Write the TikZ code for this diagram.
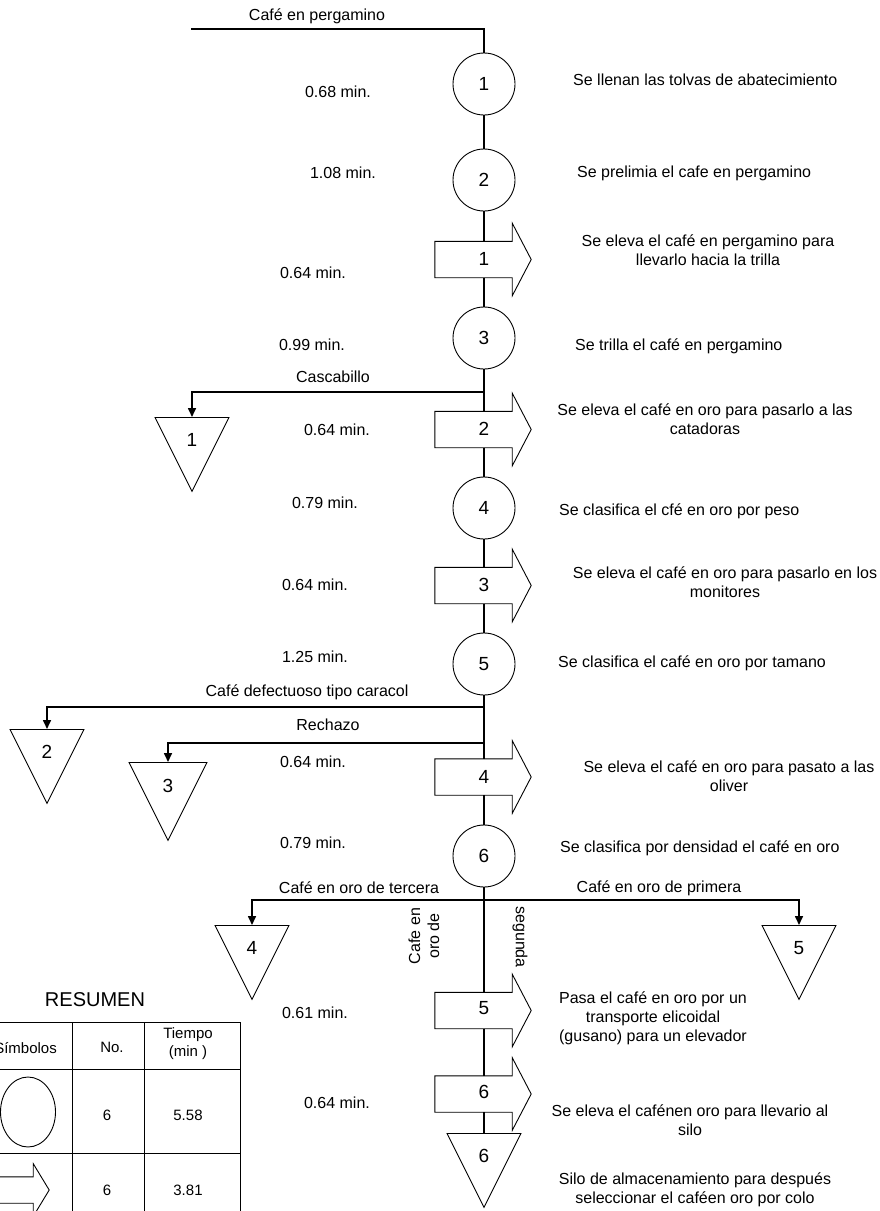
\documentclass[tikz,border=0pt]{standalone}
\usepackage{fontspec}
\setmainfont{Liberation Sans}
\usepackage{tikz}
\usetikzlibrary{arrows.meta,positioning,shapes.geometric,calc}

\begin{document}
\begin{tikzpicture}[x=1pt, y=-1pt,
  lbl/.style={font=\fontsize{16}{19}\selectfont, align=center, inner sep=1pt},
  desc/.style={lbl, anchor=west},
  num/.style={font=\fontsize{19}{22}\selectfont, inner sep=0pt},
  shape line/.style={line width=0.9pt},
  oper/.style={draw, shape line, circle, fill=white, minimum size=62pt, inner sep=0pt,
               font=\fontsize{19}{22}\selectfont},
  transp/.style={minimum width=77pt, minimum height=36pt, inner sep=0pt},
  store/.style={draw, shape line, isosceles triangle, shape border rotate=270,
                isosceles triangle stretches, minimum width=74pt, minimum height=74pt,
                inner sep=0pt, anchor=lower side, font=\fontsize{19}{22}\selectfont},
  flow/.style={line width=1.6pt},
  drop/.style={flow, -{Triangle[length=9pt, width=8pt]}},
  tbl/.style={font=\fontsize{15}{18}\selectfont, align=center, inner sep=0pt}
]
  \useasboundingbox (0,0) rectangle (880,1211);
  \clip (0,0) rectangle (880,1211);

  % incoming coffee
  \coordinate (inlet) at (191,29);
  \coordinate (bend) at (484,29);
  \node[lbl] (inlbl) at (317,16) {Café en pergamino};

  % operations (circles)
  \node[oper] (c1) at (484,84) {1};
  \node[oper] (c2) at (484,180) {2};
  \node[oper] (c3) at (484,338) {3};
  \node[oper] (c4) at (484,508) {4};
  \node[oper] (c5) at (484,664) {5};
  \node[oper] (c6) at (484,856) {6};

  % transports (block arrows)
  \node[transp] (t1) at (473.5,259.5) {};
  \node[transp] (t2) at (473.5,429.5) {};
  \node[transp] (t3) at (473.5,585.5) {};
  \node[transp] (t4) at (473.5,777) {};
  \node[transp] (t5) at (473.5,1010.5) {};
  \node[transp] (t6) at (473.5,1094) {};
  \foreach \t in {t1,t2,t3,t4,t5,t6}
    \draw[shape line, fill=white] (\t.north west) -- (\t.north east)
      -- ($(\t.north east)!-0.5!(\t.south east)$) -- ($(\t.east)+(19,0)$)
      -- ($(\t.south east)!-0.5!(\t.north east)$) -- (\t.south east)
      -- (\t.south west) -- cycle;
  \node[num] (n1) at (484,259) {1};
  \node[num] (n2) at (484,429) {2};
  \node[num] (n3) at (484,585) {3};
  \node[num] (n4) at (484,777) {4};
  \node[num] (n5) at (484,1008) {5};
  \node[num] (n6) at (484,1092) {6};

  % storages (triangles)
  \node[store] (w1) at (192,417) {1};
  \node[store] (w2) at (47,729) {2};
  \node[store, minimum width=78pt, minimum height=78pt] (w3) at (168,762) {3};
  \node[store] (w4) at (252,925) {4};
  \node[store] (w5) at (799,925) {5};
  \node[store] (w6) at (484,1133) {6};

  % main line
  \draw[flow] (inlet) -- (bend) -- (c1);
  \draw[flow] (c1) -- (c2);
  \draw[flow] (c2) -- (c2 |- t1.north);
  \draw[flow] (t1.south -| c2) -- (c3);
  \draw[flow] (c3) -- (c3 |- t2.north);
  \draw[flow] (t2.south -| c3) -- (c4);
  \draw[flow] (c4) -- (c4 |- t3.north);
  \draw[flow] (t3.south -| c4) -- (c5);
  \draw[flow] (c5) -- (c5 |- t4.north);
  \draw[flow] (t4.south -| c5) -- (c6);
  \draw[flow] (c6) -- (c6 |- t5.north);
  \draw[flow] (t5.south -| c6) -- (c6 |- t6.north);
  \draw[flow] (t6.south -| c6) -- (w6);

  % side streams
  \coordinate (j1) at (484,392);
  \coordinate (j2) at (484,707);
  \coordinate (j3) at (484,743);
  \coordinate (j4) at (484,900);
  \draw[drop] (j1) -| (w1);
  \draw[drop] (j2) -| (w2);
  \draw[drop] (j3) -| (w3);
  \draw[drop] (j4) -| (w4);
  \draw[drop] (j4) -| (w5);
  \node[lbl] (casc) at (333,377) {Cascabillo};
  \node[lbl] (defect) at (307,692) {Café defectuoso tipo caracol};
  \node[lbl] (rech) at (328,725) {Rechazo};
  \node[lbl] (third) at (359,888) {Café en oro de tercera};
  \node[lbl] (first) at (659,888) {Café en oro de primera};
  \node[lbl, rotate=90] (secondl) at (424,936) {Cafe en\\oro de};
  \node[lbl, rotate=-90] (secondr) at (520,937) {segunda};

  % times
  \node[lbl] (m1) at (338,92) {0.68 min.};
  \node[lbl] (m2) at (343,173) {1.08 min.};
  \node[lbl] (m3) at (313,273) {0.64 min.};
  \node[lbl] (m4) at (312,345) {0.99 min.};
  \node[lbl] (m5) at (337,430) {0.64 min.};
  \node[lbl] (m6) at (325,503) {0.79 min.};
  \node[lbl] (m7) at (315,585) {0.64 min.};
  \node[lbl] (m8) at (315,657) {1.25 min.};
  \node[lbl] (m9) at (313,762) {0.64 min.};
  \node[lbl] (m10) at (313,843) {0.79 min.};
  \node[lbl] (m11) at (315,1013) {0.61 min.};
  \node[lbl] (m12) at (337,1103) {0.64 min.};

  % descriptions
  \node[desc] (d1) at (572,80) {Se llenan las tolvas de abatecimiento};
  \node[desc] (d2) at (576,173) {Se prelimia el cafe en pergamino};
  \node[lbl] (d3) at (708,250) {Se eleva el café en pergamino para\\llevarlo hacia la trilla};
  \node[desc] (d4) at (574,346) {Se trilla el café en pergamino};
  \node[lbl] (d5) at (705,419) {Se eleva el café en oro para pasarlo a las\\catadoras};
  \node[desc] (d6) at (558,511) {Se clasifica el cfé en oro por peso};
  \node[lbl] (d7) at (725,582) {Se eleva el café en oro para pasarlo en los\\monitores};
  \node[desc] (d8) at (557,663) {Se clasifica el café en oro por tamano};
  \node[lbl] (d9) at (729,776) {Se eleva el café en oro para pasato a las\\oliver};
  \node[desc] (d10) at (559,848) {Se clasifica por densidad el café en oro};
  \node[lbl] (d11) at (653,1018) {Pasa el café en oro por un\\transporte elicoidal\\(gusano) para un elevador};
  \node[lbl] (d12) at (690,1120) {Se eleva el cafénen oro para llevario al\\silo};
  \node[lbl] (d13) at (695,1190) {Silo de almacenamiento para después\\seleccionar el caféen oro por colo};

  % summary table
  \node[tbl, font=\fontsize{20}{24}\selectfont] (sumtitle) at (95,1000) {RESUMEN};
  \draw[shape line] (-5,1022) -- (240,1022) (-5,1069) -- (240,1069) (-5,1153) -- (240,1153);
  \draw[shape line] (72,1022) -- (72,1215) (144,1022) -- (144,1215) (240,1022) -- (240,1215);
  \node[tbl, anchor=east] (thsym) at (57,1048) {Símbolos};
  \node[tbl] (thno) at (112,1047) {No.};
  \node[tbl] (thtime) at (188,1044) {Tiempo\\(min )};
  \node[draw, shape line, ellipse, minimum width=55pt, minimum height=70pt] (symop) at (28,1112) {};
  \node[transp, minimum width=73pt, minimum height=26pt] (symtr) at (-3.5,1190) {};
  \draw[shape line, fill=white] (symtr.north west) -- (symtr.north east)
    -- ($(symtr.north east)!-0.5!(symtr.south east)$) -- ($(symtr.east)+(16,0)$)
    -- ($(symtr.south east)!-0.5!(symtr.north east)$) -- (symtr.south east)
    -- (symtr.south west) -- cycle;
  \node[tbl] (opcount) at (107,1115) {6};
  \node[tbl] (optime) at (188,1115) {5.58};
  \node[tbl] (trcount) at (107,1190) {6};
  \node[tbl] (trtime) at (188,1190) {3.81};
\end{tikzpicture}
\end{document}
